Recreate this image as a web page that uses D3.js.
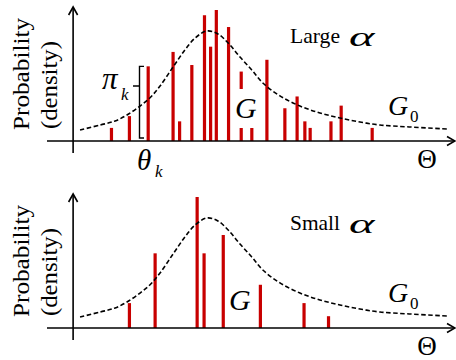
<!DOCTYPE html>
<html>
<head>
<meta charset="utf-8">
<script src="https://cdn.jsdelivr.net/npm/d3@7"></script>
<style>
  body { margin: 0; background: #fff; }
  svg { display: block; }
</style>
</head>
<body>
<svg id="chart" width="456" height="360"></svg>
<script>
// atom locations (theta) and weights (pi_k)
const largeTheta = [1.58, 2.02, 2.48, 3.09, 3.25, 3.55, 3.86, 4.01, 4.15, 4.45, 4.76, 5.02, 5.39, 5.83, 6.13, 6.32, 6.45, 6.96, 7.21, 7.97];
const largePi    = [0.10, 0.19, 0.57, 0.68, 0.15, 0.58, 0.96, 0.72, 1.00, 0.87, 0.53, 0.10, 0.62, 0.25, 0.34, 0.15, 0.10, 0.15, 0.27, 0.10];

const smallTheta = [2.02, 2.65, 3.68, 3.85, 4.32, 5.23, 6.30, 6.90];
const smallPi    = [0.19, 0.57, 1.00, 0.57, 0.71, 0.33, 0.19, 0.09];

// base measure G0 (dashed density)
const g0Theta   = [0.81, 1.30, 1.67, 1.96, 2.28, 2.52, 2.77, 3.09, 3.38, 3.63, 3.92, 4.19, 4.44, 4.73, 5.02, 5.29, 5.71, 6.20, 6.69, 7.18, 7.67, 8.16, 8.90, 9.80];
const g0Density = [0.084, 0.122, 0.153, 0.198, 0.267, 0.328, 0.42, 0.565, 0.695, 0.786, 0.84, 0.817, 0.748, 0.641, 0.542, 0.443, 0.344, 0.267, 0.214, 0.176, 0.145, 0.122, 0.107, 0.092];

const panelLabels = ['Large', 'Small'];

const barColor = '#c80000';
const serif = '"Liberation Serif", "Times New Roman", Tinos, "DejaVu Serif", serif';
const svg = d3.select('#chart').attr('font-family', serif);

const x = d3.scaleLinear().domain([0, 10]).range([47, 455]);
const axisTheta = 0.64;

function drawPanel(top, thetas, pis, label, annotate) {
    const base = top + 141;
    const y = d3.scaleLinear().domain([0, 1]).range([base, base - 131]);
    const g = svg.append('g');

    // y label
    g.append('text')
        .attr('transform', `translate(29,${base - 67}) rotate(-90)`)
        .attr('text-anchor', 'middle')
        .attr('font-size', 23)
        .attr('textLength', 112).attr('lengthAdjust', 'spacingAndGlyphs')
        .text('Probability');
    g.append('text')
        .attr('transform', `translate(57,${base - 56}) rotate(-90)`)
        .attr('text-anchor', 'middle')
        .attr('font-size', 23)
        .attr('textLength', 88).attr('lengthAdjust', 'spacingAndGlyphs')
        .text('(density)');

    // bars
    const atoms = thetas.map((t, i) => ({ t: t, p: pis[i] }));
    g.selectAll('rect.bar')
        .data(atoms)
        .enter().append('rect')
        .attr('class', 'bar')
        .attr('x', d => x(d.t) - 1.6)
        .attr('width', 3.2)
        .attr('y', d => y(d.p))
        .attr('height', d => base - y(d.p))
        .attr('fill', barColor);

    // G0 dashed curve
    const line = d3.line()
        .x(d => x(d[0]))
        .y(d => y(d[1]))
        .curve(d3.curveCatmullRom);
    g.append('path')
        .datum(g0Theta.map((t, i) => [t, g0Density[i]]))
        .attr('d', line)
        .attr('fill', 'none')
        .attr('stroke', '#000')
        .attr('stroke-width', 1.6)
        .attr('stroke-dasharray', '4.5,2.5');

    // axes
    const ax = x(axisTheta);
    g.append('line').attr('x1', x(0)).attr('x2', x(10) - 1).attr('y1', base).attr('y2', base)
        .attr('stroke', '#000').attr('stroke-width', 1.6);
    g.append('line').attr('x1', ax).attr('x2', ax).attr('y1', base + 12).attr('y2', top + 8)
        .attr('stroke', '#000').attr('stroke-width', 1.6);
    g.append('path')
        .attr('d', `M${ax - 4.5},${top + 15} L${ax},${top + 7} L${ax + 4.5},${top + 15}`)
        .attr('fill', 'none').attr('stroke', '#000').attr('stroke-width', 1.6);
    g.append('path')
        .attr('d', `M${x(10) - 8},${base - 4.5} L${x(10)},${base} L${x(10) - 8},${base + 4.5}`)
        .attr('fill', 'none').attr('stroke', '#000').attr('stroke-width', 1.6);

    g.append('text')
        .attr('x', 427).attr('y', base + 27)
        .attr('text-anchor', 'middle')
        .attr('font-size', 27)
        .text('\u0398');

    // panel title
    g.append('text')
        .attr('x', 290).attr('y', top + 43)
        .attr('font-size', 22)
        .attr('textLength', 50).attr('lengthAdjust', 'spacingAndGlyphs')
        .text(label);
    g.append('text')
        .attr('transform', `translate(349,${top + 46}) scale(1.8,1)`)
        .attr('font-size', 27)
        .attr('font-style', 'italic')
        .text('\u03b1');

    // G label (sits over a bar in the large panel)
    const gx = annotate ? 235 : 229;
    const gBase = annotate ? base - 23 : base - 18;
    if (annotate) {
        g.append('rect').attr('x', gx - 1).attr('y', base - 52).attr('width', 26).attr('height', 39)
            .attr('fill', '#fff');
    }
    g.append('text')
        .attr('x', gx).attr('y', gBase)
        .attr('font-size', 30).attr('font-style', 'italic')
        .text('G');

    // G0 label
    g.append('text')
        .attr('x', 388).attr('y', base - 26)
        .attr('font-size', 28).attr('font-style', 'italic')
        .text('G');
    g.append('text')
        .attr('x', 410).attr('y', base - 19)
        .attr('font-size', 17)
        .text('0');

    if (annotate) {
        // bracket marking pi_k for the atom at theta_k
        g.append('path')
            .attr('d', `M144,${y(0.57)} L139.5,${y(0.57)} L139.5,${base - 3} L144,${base - 3} M139.5,${top + 86} L133,${top + 86}`)
            .attr('fill', 'none').attr('stroke', '#000').attr('stroke-width', 1.4);
        g.append('text')
            .attr('x', 102).attr('y', top + 89)
            .attr('font-size', 31).attr('font-style', 'italic')
            .text('\u03c0');
        g.append('text')
            .attr('x', 121).attr('y', top + 100)
            .attr('font-size', 17).attr('font-style', 'italic')
            .text('k');
        g.append('text')
            .attr('x', 137).attr('y', top + 170)
            .attr('font-size', 29).attr('font-style', 'italic')
            .text('\u03b8');
        g.append('text')
            .attr('x', 155).attr('y', top + 177)
            .attr('font-size', 17).attr('font-style', 'italic')
            .text('k');
    }
}

drawPanel(0, largeTheta, largePi, panelLabels[0], true);
drawPanel(187, smallTheta, smallPi, panelLabels[1], false);
</script>
</body>
</html>
